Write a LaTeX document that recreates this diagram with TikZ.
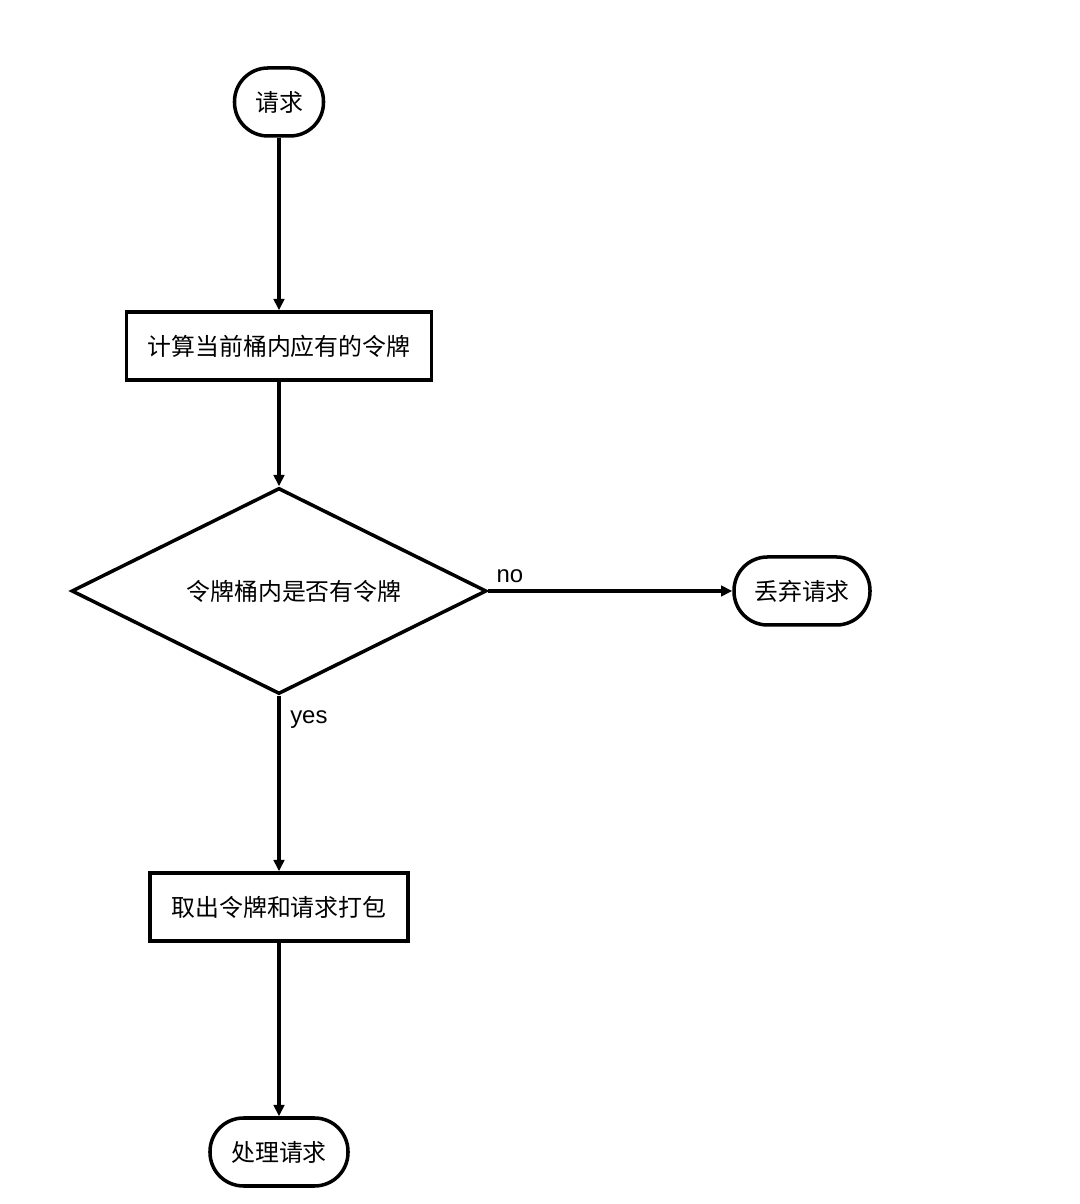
\documentclass[tikz,border=0pt]{standalone}
\usepackage{fontspec}
\setmainfont{Liberation Sans}
\newfontfamily\cjk{Noto Sans CJK SC}
\usetikzlibrary{
  arrows.meta,
  positioning,
  shapes.geometric
}

\begin{document}
\begin{tikzpicture}[
    line width=1pt,
    every node/.style={font=\cjk\fontsize{6.8pt}{8.5pt}\selectfont},
    terminal/.style={draw, rounded corners=0.335cm, minimum height=0.68cm, inner sep=0pt},
    procbox/.style={draw, rectangle, minimum height=0.68cm, inner sep=0pt},
    decision/.style={draw, diamond, aspect=2, inner sep=0pt, minimum width=4.15cm, minimum height=2.06cm},
    flow/.style={-{Triangle[length=3.2pt,width=3pt]}},
    edgelbl/.style={font=\fontsize{6.8pt}{8.5pt}\selectfont, inner sep=1pt}
  ]
  \useasboundingbox (0,0) rectangle (10.8,12.04);
  % flow nodes
  \node[terminal, minimum width=0.89cm] (req) at (2.79,11.02) {请求};
  \node[procbox, minimum width=3.05cm] (calc) at (2.79,8.58) {计算当前桶内应有的令牌};
  \node[decision] (check) at (2.79,6.13) {\hspace{0.3cm}令牌桶内是否有令牌};
  \node[terminal, minimum width=1.36cm] (drop) at (8.02,6.13) {丢弃请求};
  \node[procbox, minimum width=2.58cm] (pack) at (2.79,2.97) {取出令牌和请求打包};
  \node[terminal, minimum width=1.38cm] (done) at (2.79,0.52) {处理请求};
  % connectors
  \draw[flow] (req) -- (calc);
  \draw[flow] (calc) -- (check);
  \draw[flow] (check.east) -- (drop.west)
    node[edgelbl, pos=0, above right, xshift=0.03cm, yshift=0.03cm] (nolbl) {no};
  \draw[flow] (check.south) -- (pack.north)
    node[edgelbl, pos=0, below right, xshift=0.06cm, yshift=-0.1cm] (yeslbl) {yes};
  \draw[flow] (pack) -- (done);
\end{tikzpicture}
\end{document}
